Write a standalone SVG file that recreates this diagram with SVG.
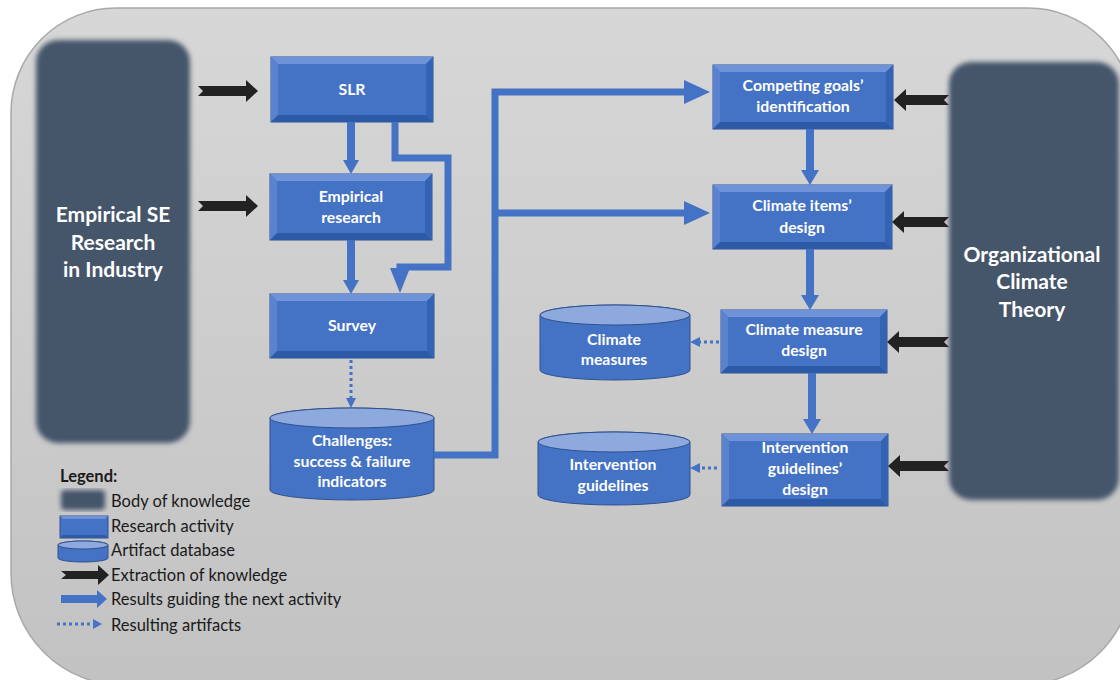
<svg xmlns="http://www.w3.org/2000/svg" width="1120" height="680" viewBox="0 0 1120 680">
<style>
.bx{fill:#4472C4;stroke:#2F528F;stroke-width:1}
.bt{fill:#6E93D8}
.bl{fill:#5A82CE}
.bb{fill:#2D5AA6}
.br{fill:#3563B4}
.cyl{fill:#4472C4;stroke:#2F528F;stroke-width:1}
.cyltop{fill:#8EA9DE;stroke:#2F528F;stroke-width:1}
.t{font-family:Lato,"Open Sans","Liberation Sans",sans-serif;font-weight:bold;fill:#ffffff;text-anchor:middle;font-size:15.8px}
.tb{font-family:Lato,"Open Sans","Liberation Sans",sans-serif;font-weight:bold;fill:#ffffff;text-anchor:middle;font-size:21px}
.lg{font-family:Lato,"Open Sans","Liberation Sans",sans-serif;fill:#1a1a1a;font-size:16.5px}
.dark{fill:#44546A}
.flow{fill:none;stroke:#4472C4;stroke-width:8}
.flow7{fill:none;stroke:#4472C4;stroke-width:7}
.head{fill:#4472C4}
.dot{fill:none;stroke:#4472C4;stroke-width:3;stroke-dasharray:3 3}
.ext{fill:#222222}
</style>
<defs>
<linearGradient id="bg" x1="0" y1="0" x2="0" y2="1">
<stop offset="0" stop-color="#d7d7d7"/>
<stop offset="1" stop-color="#c2c2c2"/>
</linearGradient>
<filter id="blur" x="-10%" y="-10%" width="120%" height="120%">
<feGaussianBlur stdDeviation="2.5"/>
</filter>
</defs>
<rect x="0" y="0" width="1120" height="680" fill="#ffffff"/>
<path d="M11,113 A105,105 0 0 1 116,8 H1028 A105,105 0 0 1 1133,113 V573 A112,112 0 0 1 1021,685 H123 A112,112 0 0 1 11,573 Z" fill="url(#bg)" stroke="#a8a8a8" stroke-width="1.5"/>

<g id="empirical-se">
<rect class="dark" x="36" y="40" width="154" height="403" rx="22" filter="url(#blur)"/>
<text class="tb" x="113" y="222">Empirical SE</text>
<text class="tb" x="113" y="250">Research</text>
<text class="tb" x="113" y="277">in Industry</text>
</g>
<g id="org-climate">
<rect class="dark" x="949" y="62" width="170" height="438" rx="22" filter="url(#blur)"/>
<text class="tb" x="1032" y="262">Organizational</text>
<text class="tb" x="1032" y="289">Climate</text>
<text class="tb" x="1032" y="317">Theory</text>
</g>

<g id="slr">
<rect class="bx" x="271" y="57" width="162" height="65"/>
<polygon class="bt" points="271,57 433,57 426,64 278,64"/>
<polygon class="bl" points="271,57 278,64 278,115 271,122"/>
<polygon class="bb" points="271,122 278,115 426,115 433,122"/>
<polygon class="br" points="433,57 433,122 426,115 426,64"/>
<text class="t" x="352" y="95">SLR</text>
</g>
<g id="empirical-research">
<rect class="bx" x="270" y="174" width="162" height="66"/>
<polygon class="bt" points="270,174 432,174 425,181 277,181"/>
<polygon class="bl" points="270,174 277,181 277,233 270,240"/>
<polygon class="bb" points="270,240 277,233 425,233 432,240"/>
<polygon class="br" points="432,174 432,240 425,233 425,181"/>
<text class="t" x="351" y="202">Empirical</text>
<text class="t" x="351" y="223">research</text>
</g>
<g id="survey">
<rect class="bx" x="270" y="294" width="164" height="64"/>
<polygon class="bt" points="270,294 434,294 427,301 277,301"/>
<polygon class="bl" points="270,294 277,301 277,351 270,358"/>
<polygon class="bb" points="270,358 277,351 427,351 434,358"/>
<polygon class="br" points="434,294 434,358 427,351 427,301"/>
<text class="t" x="352" y="331">Survey</text>
</g>
<g id="challenges">
<path class="cyl" d="M270,418 A82,10 0 0 1 434,418 V490 A82,10 0 0 1 270,490 Z"/>
<ellipse class="cyltop" cx="352" cy="418" rx="82" ry="10"/>
<text class="t" x="352" y="446">Challenges:</text>
<text class="t" x="352" y="467">success &amp; failure</text>
<text class="t" x="352" y="487">indicators</text>
</g>
<g id="competing-goals">
<rect class="bx" x="713" y="65" width="180" height="64"/>
<polygon class="bt" points="713,65 893,65 886,72 720,72"/>
<polygon class="bl" points="713,65 720,72 720,122 713,129"/>
<polygon class="bb" points="713,129 720,122 886,122 893,129"/>
<polygon class="br" points="893,65 893,129 886,122 886,72"/>
<text class="t" x="803" y="91">Competing goals’</text>
<text class="t" x="803" y="112">identification</text>
</g>
<g id="climate-items">
<rect class="bx" x="713" y="185" width="179" height="64"/>
<polygon class="bt" points="713,185 892,185 885,192 720,192"/>
<polygon class="bl" points="713,185 720,192 720,242 713,249"/>
<polygon class="bb" points="713,249 720,242 885,242 892,249"/>
<polygon class="br" points="892,185 892,249 885,242 885,192"/>
<text class="t" x="802" y="211">Climate items’</text>
<text class="t" x="802" y="233">design</text>
</g>
<g id="climate-measure-design">
<rect class="bx" x="721" y="310" width="166" height="63"/>
<polygon class="bt" points="721,310 887,310 880,317 728,317"/>
<polygon class="bl" points="721,310 728,317 728,366 721,373"/>
<polygon class="bb" points="721,373 728,366 880,366 887,373"/>
<polygon class="br" points="887,310 887,373 880,366 880,317"/>
<text class="t" x="804" y="335">Climate measure</text>
<text class="t" x="804" y="356">design</text>
</g>
<g id="intervention-design">
<rect class="bx" x="722" y="434" width="166" height="72"/>
<polygon class="bt" points="722,434 888,434 881,441 729,441"/>
<polygon class="bl" points="722,434 729,441 729,499 722,506"/>
<polygon class="bb" points="722,506 729,499 881,499 888,506"/>
<polygon class="br" points="888,434 888,506 881,499 881,441"/>
<text class="t" x="805" y="453">Intervention</text>
<text class="t" x="805" y="474">guidelines’</text>
<text class="t" x="805" y="495">design</text>
</g>
<g id="climate-measures">
<path class="cyl" d="M540,315 A75,10 0 0 1 690,315 V370 A75,10 0 0 1 540,370 Z"/>
<ellipse class="cyltop" cx="615" cy="315" rx="75" ry="10"/>
<text class="t" x="614" y="345">Climate</text>
<text class="t" x="614" y="365">measures</text>
</g>
<g id="intervention-guidelines">
<path class="cyl" d="M538,442 A76,10 0 0 1 690,442 V495 A76,10 0 0 1 538,495 Z"/>
<ellipse class="cyltop" cx="614" cy="442" rx="76" ry="10"/>
<text class="t" x="613" y="470">Intervention</text>
<text class="t" x="613" y="491">guidelines</text>
</g>

<g id="connectors">
<polygon class="ext" points="198,86 246,86 246,80 258,91 246,102 246,96 198,96 203,91"/>
<polygon class="ext" points="198,201 246,201 246,195 258,206 246,217 246,211 198,211 203,206"/>
<polygon class="ext" points="949,95 906,95 906,89 894,100 906,111 906,105 949,105 944,100"/>
<polygon class="ext" points="949,217 904,217 904,211 892,222 904,233 904,227 949,227 944,222"/>
<polygon class="ext" points="949,337 899,337 899,331 887,342 899,353 899,347 949,347 944,342"/>
<polygon class="ext" points="949,461 900,461 900,455 888,466 900,477 900,471 949,471 944,466"/>

<line class="flow" x1="351" y1="122" x2="351" y2="162"/>
<polygon class="head" points="343,160 359,160 351,174"/>
<line class="flow" x1="351" y1="240" x2="351" y2="282"/>
<polygon class="head" points="343,280 359,280 351,294"/>
<path class="flow7" d="M395,122 V158 H448 V267 H400 V272"/>
<polygon class="head" points="390,268 410,268 400,293"/>
<path class="flow7" d="M434,455 H495 V92 H686"/>
<polygon class="head" points="684,80 684,104 710,92"/>
<path class="flow7" d="M495,213 H686"/>
<polygon class="head" points="684,201 684,225 710,213"/>
<line class="flow" x1="810" y1="129" x2="810" y2="172"/>
<polygon class="head" points="801,170 819,170 810,185"/>
<line class="flow" x1="810" y1="249" x2="810" y2="297"/>
<polygon class="head" points="801,295 819,295 810,310"/>
<line class="flow" x1="812" y1="373" x2="812" y2="421"/>
<polygon class="head" points="803,419 821,419 812,434"/>

<line class="dot" x1="351" y1="360" x2="351" y2="399"/>
<polygon class="head" points="346,398 356,398 351,408"/>
<line class="dot" x1="719" y1="342" x2="699" y2="342"/>
<polygon class="head" points="700,337 700,347 690,342"/>
<line class="dot" x1="717" y1="468" x2="699" y2="468"/>
<polygon class="head" points="700,463 700,473 690,468"/>
</g>

<g id="legend">
<text class="lg" x="60" y="482" font-weight="bold">Legend:</text>
<rect class="dark" x="61" y="490" width="44" height="20" rx="4" filter="url(#blur)"/>
<text class="lg" x="111" y="507">Body of knowledge</text>
<rect class="bx" x="60" y="516" width="48" height="22"/>
<polygon class="bt" points="60,516 108,516 105,519 63,519"/>
<polygon class="bb" points="60,538 63,535 105,535 108,538"/>
<text class="lg" x="111" y="532">Research activity</text>
<path class="cyl" d="M58,545 A25,4 0 0 1 108,545 V558 A25,4 0 0 1 58,558 Z"/>
<ellipse class="cyltop" cx="83" cy="545" rx="25" ry="4"/>
<text class="lg" x="111" y="556">Artifact database</text>
<polygon class="ext" points="61,571 98,571 98,565 109,575 98,585 98,579 61,579 66,575"/>
<text class="lg" x="111" y="581">Extraction of knowledge</text>
<polygon class="head" points="61,595 97,595 97,590 107,599 97,608 97,603 61,603"/>
<text class="lg" x="111" y="605">Results guiding the next activity</text>
<line class="dot" x1="57" y1="624" x2="93" y2="624" stroke-width="2.5"/>
<polygon class="head" points="93,619 93,629 102,624"/>
<text class="lg" x="111" y="631">Resulting artifacts</text>
</g>
</svg>
